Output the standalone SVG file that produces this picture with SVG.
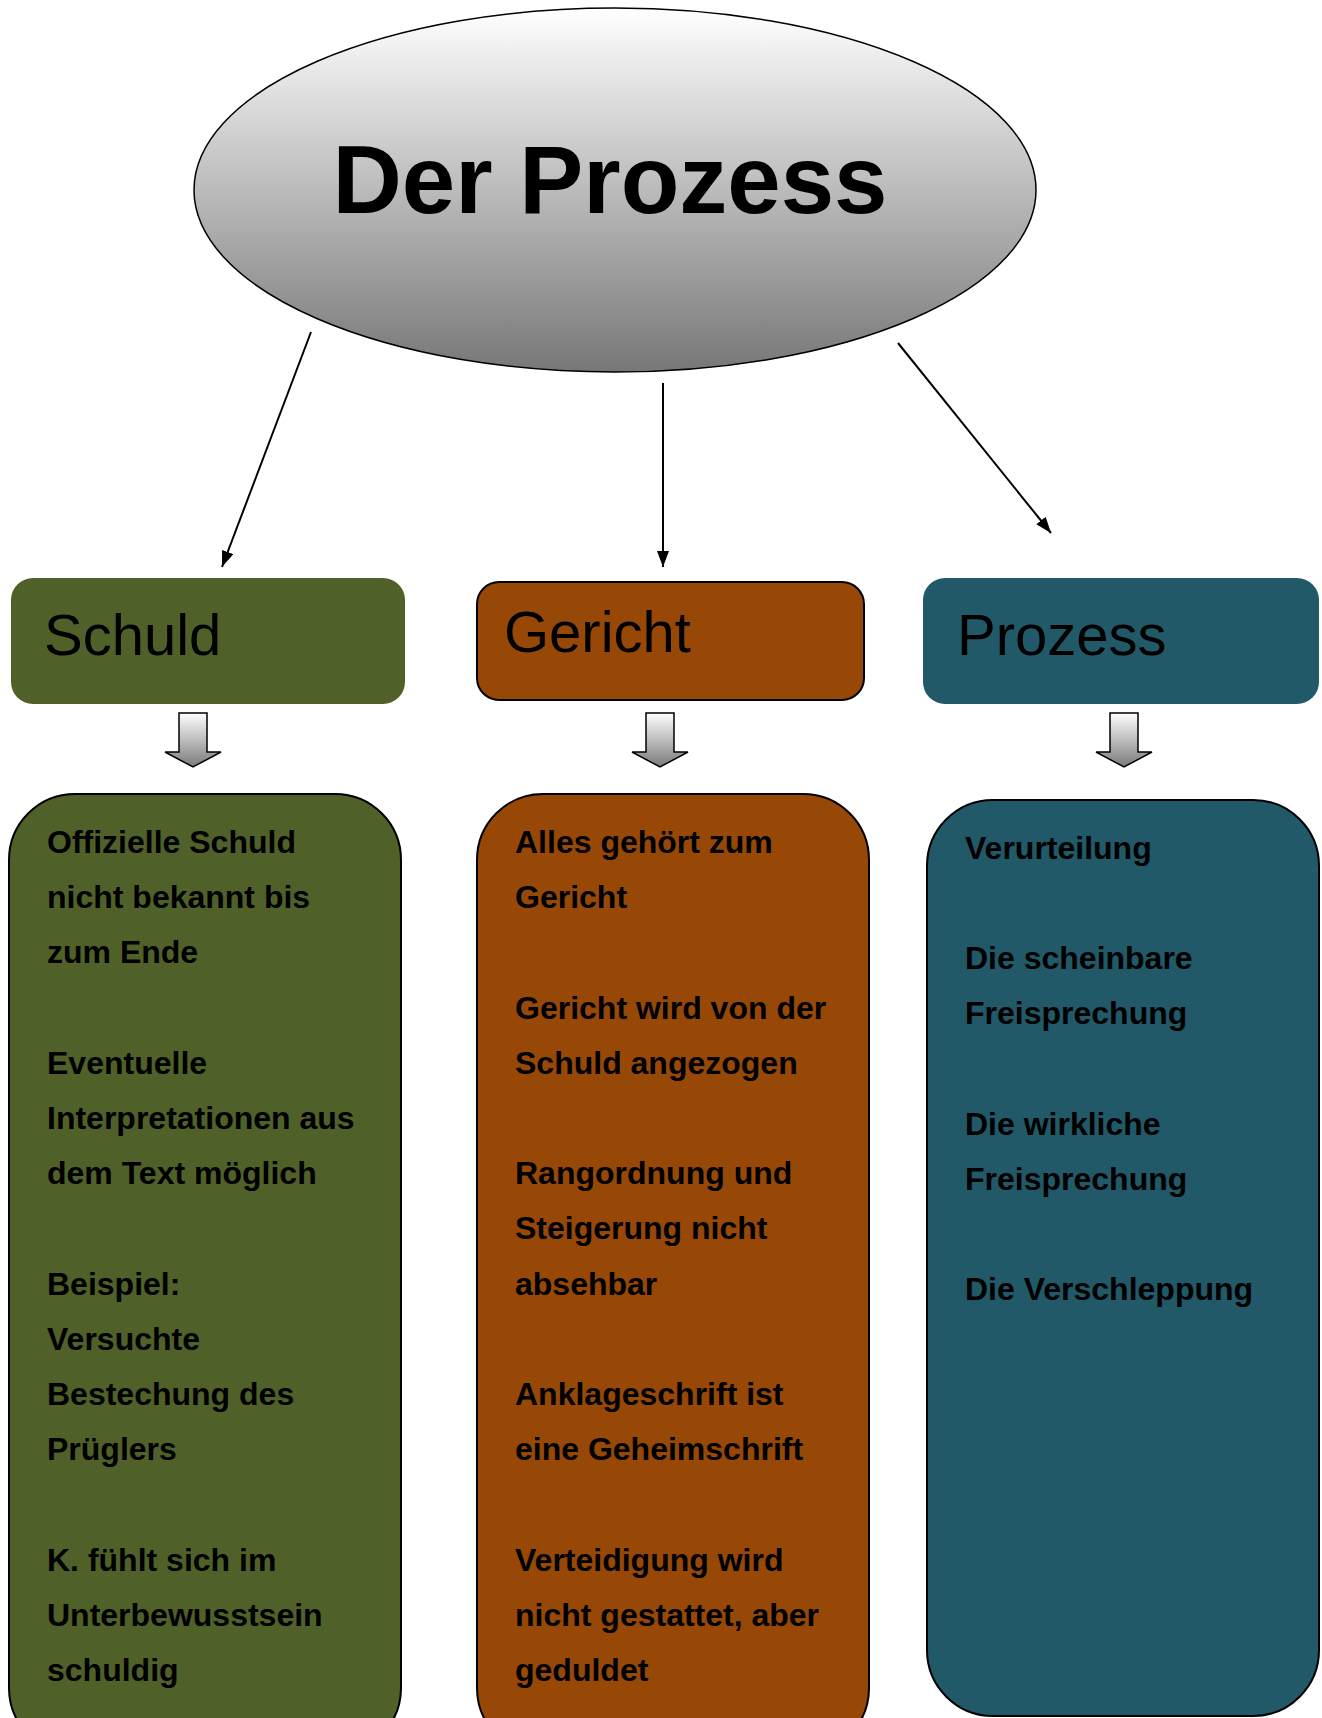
<svg xmlns="http://www.w3.org/2000/svg" width="1322" height="1718" viewBox="0 0 1322 1718">
  <defs>
    <linearGradient id="gEllipse" x1="0" y1="0" x2="0" y2="1">
      <stop offset="0" stop-color="#ffffff"/>
      <stop offset="1" stop-color="#777777"/>
    </linearGradient>
    <linearGradient id="gBlock" x1="0" y1="0" x2="0" y2="1">
      <stop offset="0" stop-color="#ffffff"/>
      <stop offset="1" stop-color="#7a7a7a"/>
    </linearGradient>
    <marker id="arrow" markerUnits="userSpaceOnUse" markerWidth="18" markerHeight="14" refX="16" refY="6" orient="auto">
      <path d="M0,0 L16,6 L0,12 Z" fill="#000"/>
    </marker>
    <style>
      .title { font-family: "Liberation Sans", Arial, sans-serif; font-weight: bold; font-size: 96px; fill: #000; }
      .head { font-family: "Liberation Sans", Arial, sans-serif; font-size: 58px; fill: #000; }
      .body { font-family: "Liberation Sans", Arial, sans-serif; font-weight: bold; font-size: 32px; fill: #000; }
      .conn { stroke: #000; stroke-width: 2; fill: none; marker-end: url(#arrow); }
      .block { fill: url(#gBlock); stroke: #000; stroke-width: 1.5; }
      .olive { fill: #4f6128; }
      .brown { fill: #974806; }
      .teal { fill: #215968; }
      .outlined { stroke: #000; stroke-width: 2; }
    </style>
  </defs>

  <g id="connectors">
    <line class="conn" x1="311" y1="332" x2="222" y2="567"/>
    <line class="conn" x1="663" y1="383" x2="663" y2="567"/>
    <line class="conn" x1="898" y1="343" x2="1051" y2="533"/>
    <path class="block" d="M179,713 H207 V752 H221 L193,767 L165,752 H179 Z"/>
    <path class="block" d="M646,713 H674 V752 H688 L660,767 L632,752 H646 Z"/>
    <path class="block" d="M1110,713 H1138 V752 H1152 L1124,767 L1096,752 H1110 Z"/>
  </g>

  <g id="root">
    <ellipse cx="615" cy="190" rx="421" ry="182" fill="url(#gEllipse)" stroke="#000" stroke-width="1.5"/>
    <text class="title" x="610" y="213" text-anchor="middle">Der Prozess</text>
  </g>

  <g id="head-schuld">
    <rect class="olive" x="11" y="578" width="394" height="126" rx="22"/>
    <text class="head" x="44" y="655">Schuld</text>
  </g>
  <g id="head-gericht">
    <rect class="brown outlined" x="477" y="582" width="387" height="118" rx="22"/>
    <text class="head" x="504" y="652">Gericht</text>
  </g>
  <g id="head-prozess">
    <rect class="teal" x="923" y="578" width="396" height="126" rx="22"/>
    <text class="head" x="957" y="655">Prozess</text>
  </g>

  <g id="body-schuld">
    <rect class="olive outlined" x="9" y="794" width="392" height="960" rx="66"/>
    <text class="body">
      <tspan x="47" y="853">Offizielle Schuld</tspan>
      <tspan x="47" y="908">nicht bekannt bis</tspan>
      <tspan x="47" y="963">zum Ende</tspan>
      <tspan x="47" y="1074">Eventuelle</tspan>
      <tspan x="47" y="1129">Interpretationen aus</tspan>
      <tspan x="47" y="1184">dem Text möglich</tspan>
      <tspan x="47" y="1295">Beispiel:</tspan>
      <tspan x="47" y="1350">Versuchte</tspan>
      <tspan x="47" y="1405">Bestechung des</tspan>
      <tspan x="47" y="1460">Prüglers</tspan>
      <tspan x="47" y="1571">K. fühlt sich im</tspan>
      <tspan x="47" y="1626">Unterbewusstsein</tspan>
      <tspan x="47" y="1681">schuldig</tspan>
    </text>
  </g>

  <g id="body-gericht">
    <rect class="brown outlined" x="477" y="794" width="392" height="960" rx="66"/>
    <text class="body">
      <tspan x="515" y="853">Alles gehört zum</tspan>
      <tspan x="515" y="908">Gericht</tspan>
      <tspan x="515" y="1019">Gericht wird von der</tspan>
      <tspan x="515" y="1074">Schuld angezogen</tspan>
      <tspan x="515" y="1184">Rangordnung und</tspan>
      <tspan x="515" y="1239">Steigerung nicht</tspan>
      <tspan x="515" y="1295">absehbar</tspan>
      <tspan x="515" y="1405">Anklageschrift ist</tspan>
      <tspan x="515" y="1460">eine Geheimschrift</tspan>
      <tspan x="515" y="1571">Verteidigung wird</tspan>
      <tspan x="515" y="1626">nicht gestattet, aber</tspan>
      <tspan x="515" y="1681">geduldet</tspan>
    </text>
  </g>

  <g id="body-prozess">
    <rect class="teal outlined" x="927" y="800" width="392" height="916" rx="66"/>
    <text class="body">
      <tspan x="965" y="859">Verurteilung</tspan>
      <tspan x="965" y="969">Die scheinbare</tspan>
      <tspan x="965" y="1024">Freisprechung</tspan>
      <tspan x="965" y="1135">Die wirkliche</tspan>
      <tspan x="965" y="1190">Freisprechung</tspan>
      <tspan x="965" y="1300">Die Verschleppung</tspan>
    </text>
  </g>
</svg>
